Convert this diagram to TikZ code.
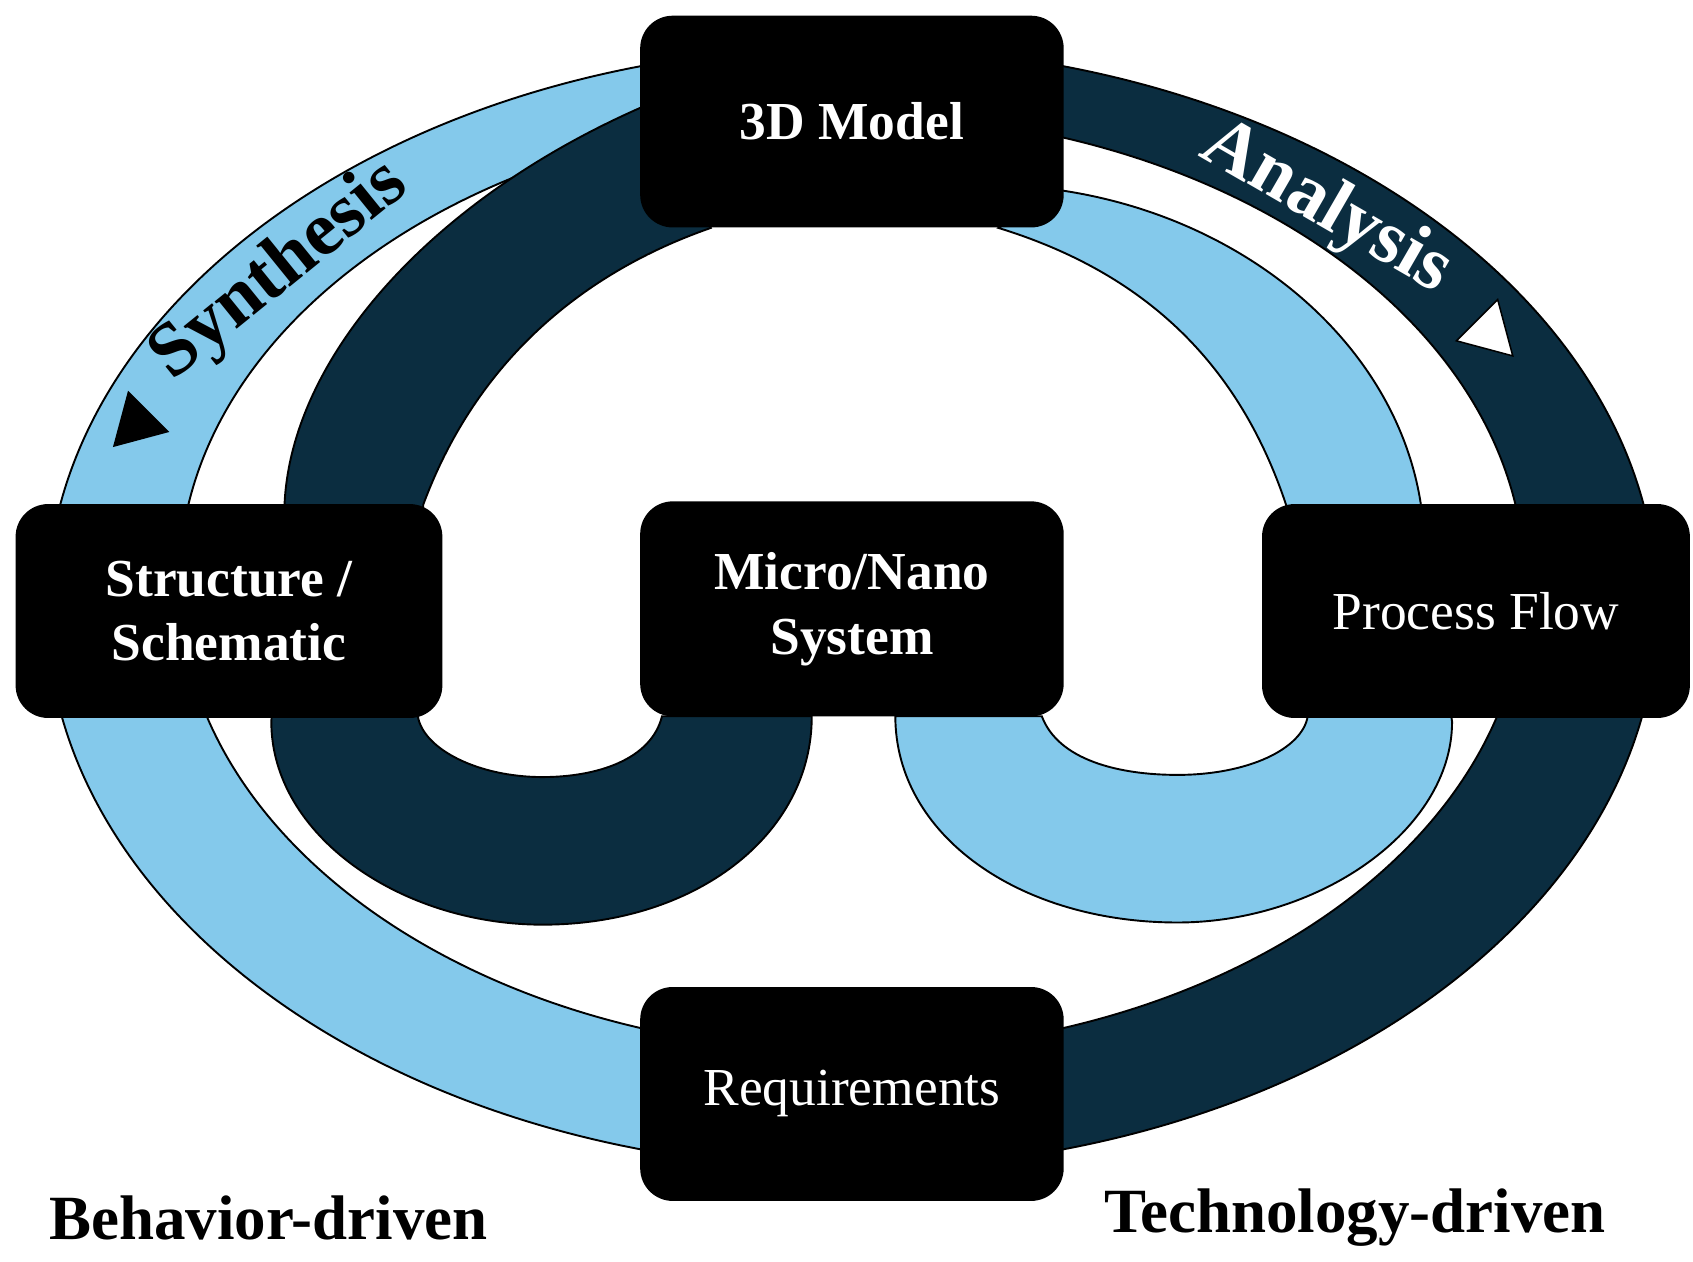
\documentclass[tikz,border=0pt]{standalone}
\usetikzlibrary{shapes.geometric}
\usepackage{fontspec}
\setmainfont{Liberation Serif}
\definecolor{lb}{HTML}{84C9EB}
\definecolor{db}{HTML}{0B2D40}
\begin{document}
\begin{tikzpicture}[x=0.01cm,y=-0.01cm,
  box/.style={fill=black,rounded corners=0.3cm,text=white,align=center,font=\fontsize{14}{16}\selectfont},
  band/.style={draw=black,line width=0.5pt},
  tri/.style={regular polygon,regular polygon sides=3,inner sep=0pt,minimum size=0.62cm}]
\useasboundingbox (0,0) rectangle (1560,1162);
% outer ring
\begin{scope}
\clip (0,0) rectangle (785,1162);
\fill[lb,even odd rule] (785,560) ellipse [x radius=742,y radius=517] (785,537) ellipse [x radius=620,y radius=432];
\end{scope}
\begin{scope}
\clip (785,0) rectangle (1560,1162);
\fill[db,even odd rule] (785,560) ellipse [x radius=742,y radius=517] (785,537) ellipse [x radius=620,y radius=432];
\end{scope}
\draw[line width=0.5pt] (785,560) ellipse [x radius=742,y radius=517];
\draw[line width=0.5pt] (785,537) ellipse [x radius=620,y radius=432];
% inner bands
\path[band,fill=db] (600,95) .. controls (400,180) and (265,330) .. (262,470) -- (250,665) .. controls (250,770) and (370,852) .. (500,852) .. controls (640,852) and (748,770) .. (748,660) -- (610,660) .. controls (600,700) and (550,716) .. (500,716) .. controls (440,716) and (390,690) .. (385,660) -- (390,465) .. controls (440,330) and (540,250) .. (655,210) -- cycle;
\path[band,fill=lb] (975,175) .. controls (1150,200) and (1290,320) .. (1310,470) -- (1338,665) .. controls (1338,765) and (1215,850) .. (1085,850) .. controls (940,850) and (825,770) .. (825,660) -- (960,660) .. controls (975,700) and (1030,714) .. (1085,714) .. controls (1150,714) and (1200,690) .. (1205,660) -- (1185,465) .. controls (1140,330) and (1050,250) .. (920,210) -- cycle;
% boxes
\node[box,minimum width=3.9cm,minimum height=1.95cm,font=\fontsize{14}{16}\selectfont\bfseries] (model) at (785,112) {3D Model};
\node[box,minimum width=3.93cm,minimum height=1.97cm,font=\fontsize{14}{17}\selectfont\bfseries] (struct) at (211,563) {Structure /\\Schematic};
\node[box,minimum width=3.9cm,minimum height=1.98cm,font=\fontsize{14}{17}\selectfont\bfseries] (micro) at (785,561) {Micro/Nano\\System};
\node[box,minimum width=3.94cm,minimum height=1.97cm] (proc) at (1360,563) {Process Flow};
\node[box,minimum width=3.9cm,minimum height=1.97cm] (req) at (785,1008) {Requirements};
% labels
\node[font=\fontsize{20}{22}\selectfont\bfseries,text=black,rotate=39] (syn) at (258,250) {Synthesis};
\node[font=\fontsize{20}{22}\selectfont\bfseries,text=white,rotate=-30] (ana) at (1222,192) {Analysis};
\node[tri,fill=black,shape border rotate=135] (t1) at (126,390) {};
\node[tri,fill=white,draw=black,shape border rotate=-135] (t2) at (1372,306) {};
\node[font=\fontsize{16.5}{19}\selectfont\bfseries,anchor=west] (beh) at (33,1122) {Behavior-driven};
\node[font=\fontsize{16.5}{19}\selectfont\bfseries,anchor=east] (tec) at (1492,1122) {Technology-driven};
\end{tikzpicture}
\end{document}
